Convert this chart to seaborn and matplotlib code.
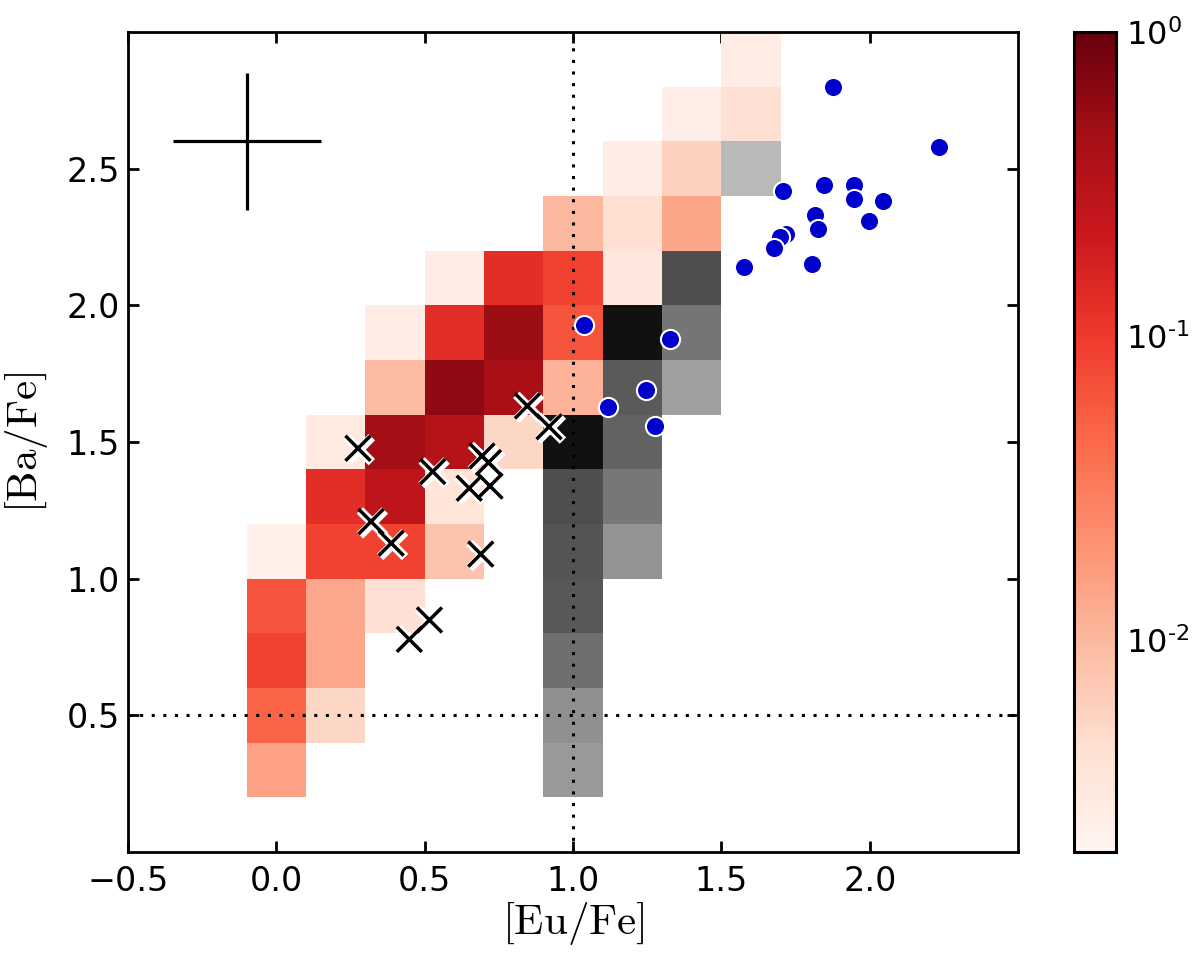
import numpy as np
import matplotlib
matplotlib.use("Agg")
import matplotlib.pyplot as plt
import seaborn as sns
from matplotlib.colors import LogNorm, Normalize
import matplotlib.patheffects as pe

# ---------------- data ----------------
# red (model) cells: centres and fraction
red_eu = [0.0, 0.0, 0.0, 0.0, 0.0,
          0.2, 0.2, 0.2, 0.2, 0.2, 0.2,
          0.4, 0.4, 0.4, 0.4, 0.4, 0.4,
          0.6, 0.6, 0.6, 0.6, 0.6, 0.6,
          0.8, 0.8, 0.8, 0.8,
          1.0, 1.0, 1.0, 1.0,
          1.2, 1.2, 1.2,
          1.4, 1.4, 1.4,
          1.6, 1.6]
red_ba = [0.3, 0.5, 0.7, 0.9, 1.1,
          0.5, 0.7, 0.9, 1.1, 1.3, 1.5,
          0.9, 1.1, 1.3, 1.5, 1.7, 1.9,
          1.1, 1.3, 1.5, 1.7, 1.9, 2.1,
          1.5, 1.7, 1.9, 2.1,
          1.7, 1.9, 2.1, 2.3,
          2.1, 2.3, 2.5,
          2.3, 2.5, 2.7,
          2.7, 2.9]
red_frac = [0.0155, 0.05, 0.088, 0.065, 0.0024,
            0.0054, 0.0137, 0.0137, 0.088, 0.129, 0.003,
            0.0042, 0.088, 0.27, 0.46, 0.0095, 0.0028,
            0.0078, 0.0037, 0.33, 0.61, 0.13, 0.0028,
            0.0054, 0.42, 0.5, 0.13,
            0.011, 0.065, 0.088, 0.010,
            0.0033, 0.0043, 0.0028,
            0.014, 0.006, 0.0026,
            0.0042, 0.0028]

# grey (second model) cells
grey_eu = [1.0, 1.0, 1.0, 1.0, 1.0, 1.0, 1.0,
           1.2, 1.2, 1.2, 1.2, 1.2,
           1.4, 1.4, 1.4,
           1.6]
grey_ba = [0.3, 0.5, 0.7, 0.9, 1.1, 1.3, 1.5,
           1.1, 1.3, 1.5, 1.7, 1.9,
           1.7, 1.9, 2.1,
           2.5]
grey_val = [0.49, 0.52, 0.64, 0.725, 0.74, 0.76, 0.94,
            0.51, 0.61, 0.69, 0.72, 0.94,
            0.47, 0.62, 0.76,
            0.39]

# observed stars: crosses
cross_eu = [0.275, 0.319, 0.387, 0.527, 0.693, 0.715, 0.650, 0.720, 0.689,
            0.516, 0.448, 0.846, 0.919]
cross_ba = [1.477, 1.209, 1.130, 1.392, 1.449, 1.425, 1.331, 1.339, 1.090,
            0.849, 0.778, 1.632, 1.556]

# observed stars: blue circles
blue_eu = [1.876, 2.234, 1.706, 1.847, 1.946, 1.946, 2.046, 1.815, 1.827,
           1.996, 1.718, 1.697, 1.676, 1.577, 1.807, 1.038, 1.326, 1.247,
           1.118, 1.276]
blue_ba = [2.800, 2.578, 2.420, 2.439, 2.442, 2.390, 2.381, 2.332, 2.280,
           2.310, 2.261, 2.251, 2.209, 2.140, 2.150, 1.929, 1.878, 1.690,
           1.629, 1.559]

# typical error bar
err_eu = [-0.1]
err_ba = [2.6]
err_x = [0.25]
err_y = [0.25]

x_ticks = [-0.5, 0.0, 0.5, 1.0, 1.5, 2.0]
y_ticks = [0.5, 1.0, 1.5, 2.0, 2.5]
cbar_ticks = [0.01, 0.1, 1.0]
cbar_exps = ["\u20102", "\u20101", "0"]

# ---------------- style ----------------
sns.set_style("ticks")
plt.rcParams['font.family'] = ['DejaVu Sans']
plt.rcParams['mathtext.fontset'] = 'cm'
plt.rcParams['axes.linewidth'] = 2.0
for key in ['text.color', 'axes.labelcolor', 'xtick.color', 'ytick.color',
            'axes.edgecolor']:
    plt.rcParams[key] = 'black'

fig = plt.figure(figsize=(12, 9.61), dpi=100)
ax = fig.add_axes([0.1067, 0.1134, 0.7417, 0.8533])
cax = fig.add_axes([0.895, 0.1134, 0.035, 0.8533])

# grid of cells
cell = 0.2
x_edges = np.arange(-0.1, 1.7001, cell)
y_edges = np.arange(0.2, 3.0001, cell)

def to_grid(xs, ys, vs):
    g = np.full((len(y_edges) - 1, len(x_edges) - 1), np.nan)
    for xv, yv, v in zip(xs, ys, vs):
        i = int(np.floor((yv - y_edges[0]) / cell + 1e-6))
        j = int(np.floor((xv - x_edges[0]) / cell + 1e-6))
        g[i, j] = v
    return np.ma.masked_invalid(g)

red_grid = to_grid(red_eu, red_ba, red_frac)
grey_grid = to_grid(grey_eu, grey_ba, grey_val)

ax.pcolormesh(x_edges, y_edges, grey_grid, cmap='Greys',
              norm=Normalize(0, 1), edgecolors='none', antialiased=False,
              zorder=1)
mesh = ax.pcolormesh(x_edges, y_edges, red_grid, cmap='Reds',
                     norm=LogNorm(vmin=0.002, vmax=1.0), edgecolors='none',
                     antialiased=False, zorder=1)

# dotted reference lines
ax.axvline(1.0, color='black', lw=2.2, ls=(0, (1, 2.8)), zorder=3)
ax.axhline(0.5, color='black', lw=2.2, ls=(0, (1, 2.8)), zorder=3)

# error cross
ax.errorbar(err_eu, err_ba, xerr=err_x, yerr=err_y, fmt='none',
            ecolor='black', elinewidth=2.3, capsize=0, zorder=4)

# crosses
sns.scatterplot(x=cross_eu, y=cross_ba, marker='x', color='black',
                s=18 ** 2, linewidth=2.5, zorder=6, ax=ax,
                path_effects=[pe.Stroke(linewidth=6.5, foreground='white',
                                        offset=(1.0, -1.0)),
                              pe.Normal()])

# blue circles
sns.scatterplot(x=blue_eu, y=blue_ba, color='#0000cc', s=190,
                edgecolor='white', linewidth=1.5, zorder=7, ax=ax)

ax.set_xlim(-0.5, 2.5)
ax.set_ylim(0.0, 3.0)
ax.set_xticks(x_ticks)
ax.set_yticks(y_ticks)
ax.set_xticklabels([f"{t:.1f}".replace("-", "\u2212") for t in x_ticks])
ax.set_yticklabels([f"{t:.1f}" for t in y_ticks])
ax.tick_params(axis='both', which='major', direction='in', length=8,
               width=2, labelsize=24, top=True, right=True)
ax.tick_params(axis='x', pad=9)
ax.tick_params(axis='y', pad=6)
ax.minorticks_off()
for sp in ax.spines.values():
    sp.set_linewidth(2.0)
    sp.set_visible(True)

ax.set_xlabel(r'$[\mathrm{Eu/Fe}]$', fontsize=31, labelpad=2)
ax.set_ylabel(r'$[\mathrm{Ba/Fe}]$', fontsize=31, labelpad=12)

cbar = fig.colorbar(mesh, cax=cax)
cbar.outline.set_linewidth(2.2)
cbar.ax.minorticks_off()
cbar.set_ticks(cbar_ticks)
cbar.set_ticklabels(["$\\mathdefault{10^{" + e + "}}$" for e in cbar_exps])
cbar.ax.tick_params(which='major', direction='in', length=9, width=1,
                    labelsize=23, pad=7)
cbar.ax.tick_params(which='minor', length=0)
for lab in cbar.ax.get_yticklabels():
    lab.set_fontfamily('DejaVu Sans')

fig.savefig('out.png', dpi=100)
